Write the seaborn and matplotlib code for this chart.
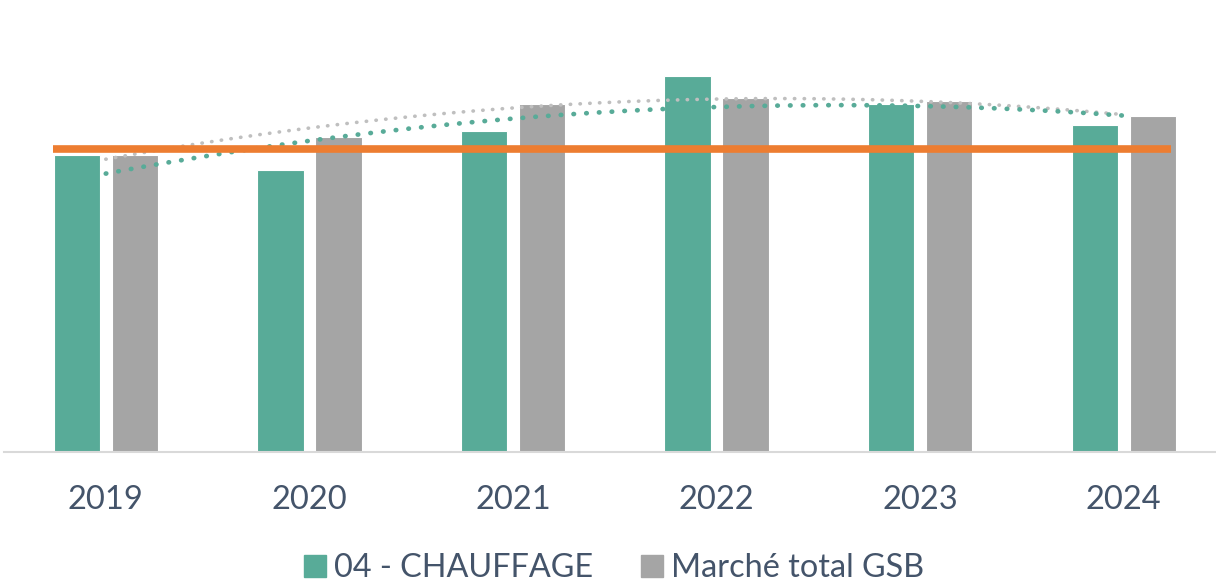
import numpy as np
import pandas as pd
import matplotlib
matplotlib.use("Agg")
import matplotlib.pyplot as plt
from matplotlib.patches import Patch
import seaborn as sns

years = ["2019", "2020", "2021", "2022", "2023", "2024"]
chauffage = [98, 93, 106, 124, 115, 108]
marche_gsb = [98, 104, 115, 117, 116, 111]
reference = 100

green = "#58ab98"
grey = "#a5a5a5"
orange = "#ed7d31"
text_col = "#44546a"

sns.set_theme(style="white")
plt.rcParams["font.family"] = ["Lato", "DejaVu Sans"]

df = pd.DataFrame({
    "year": years * 2,
    "value": chauffage + marche_gsb,
    "serie": ["04 - CHAUFFAGE"] * 6 + ["Marché total GSB"] * 6,
})

fig = plt.figure(figsize=(12.16, 5.84), dpi=100)
ax = fig.add_axes([4 / 1216, 132 / 584, 1212 / 1216, 424 / 584])

sns.barplot(data=df, x="year", y="value", hue="serie", palette=[green, grey],
            width=0.57, gap=0.2, ax=ax, legend=False, saturation=1)
for p in ax.patches:
    p.set_edgecolor("white")
    p.set_linewidth(0.8)

# courbes de tendance (polynomiale ordre 2)
x = np.arange(len(years))
xs = np.linspace(0, len(years) - 1, 200)
for vals, col, lw in [(marche_gsb, "#bfbfbf", 2.6), (chauffage, green, 3.4)]:
    coef = np.polyfit(x, vals, 2)
    ax.plot(xs, np.polyval(coef, xs), color=col, lw=lw,
            linestyle=(0, (0.1, 2.6)), dash_capstyle="round")

ax.hlines(reference, -0.26, 5.23, color=orange, lw=5.5, zorder=5)

ax.set_xlim(-0.5, -0.5 + 1212 / 203.6)
ax.set_ylim(0, 140)
ax.set_yticks([])
ax.set_xlabel("")
ax.set_ylabel("")
sns.despine(ax=ax, left=True, right=True, top=True)
ax.spines["bottom"].set_color("#d9d9d9")
ax.spines["bottom"].set_linewidth(1.5)
ax.tick_params(axis="x", length=0, pad=24, labelsize=23.5, labelcolor=text_col)

handles = [Patch(color=green, label="04 - CHAUFFAGE"),
           Patch(color=grey, label="Marché total GSB")]
fig.legend(handles=handles, loc="center", bbox_to_anchor=(614 / 1216, 1 - 568 / 584),
           ncol=2, frameon=False, fontsize=23.3, labelcolor=text_col,
           handlelength=0.68, handleheight=0.68, handletextpad=0.25, columnspacing=1.5)

fig.savefig("out.png", dpi=100)
